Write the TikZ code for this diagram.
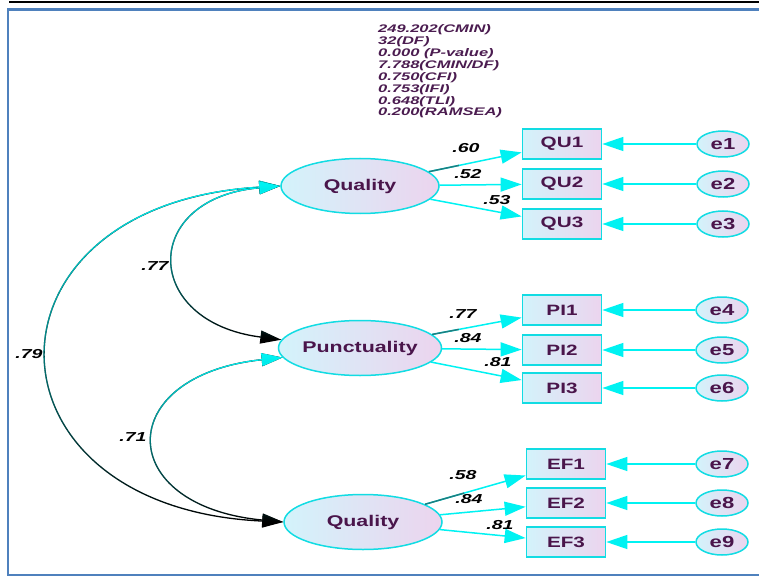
\documentclass[tikz,border=0pt]{standalone}
\usepackage{fontspec}
\setmainfont{Liberation Sans}
\newfontfamily\nodefont[FakeStretch=1.38]{Liberation Sans}
\newfontfamily\numfont[FakeStretch=1.5]{Liberation Sans}
\usetikzlibrary{arrows.meta,fadings,shapes.geometric}
\definecolor{txt}{HTML}{4A154B}
\definecolor{stat}{HTML}{4B1C50}
\definecolor{cy}{HTML}{00F2F2}
\definecolor{cyb}{HTML}{12DCE3}
\definecolor{fillL}{HTML}{D3F3FB}
\definecolor{fillR}{HTML}{ECD4EE}
\definecolor{framec}{HTML}{4F81BD}
\definecolor{tealc}{HTML}{1E7E80}
\tikzfading[name=topsolid, top color=transparent!0, middle color=transparent!40, bottom color=transparent!100]
\begin{document}
\begin{tikzpicture}[x=1pt,y=-1pt,
  latent/.style={ellipse, draw=cyb, line width=1.5pt, left color=fillL, right color=fillR,
    minimum width=158pt, minimum height=55pt, inner sep=0pt,
    font=\nodefont\bfseries\fontsize{15.5}{16}\selectfont, text=txt},
  obs/.style={rectangle, draw=cyb, line width=1.7pt, left color=fillL, right color=fillR,
    minimum width=79pt, minimum height=30pt, inner sep=0pt,
    font=\nodefont\bfseries\fontsize{15}{16}\selectfont, text=txt},
  err/.style={ellipse, draw=cyb, line width=1.5pt, left color=fillL, right color=fillR,
    minimum width=52pt, minimum height=26pt, inner sep=0pt,
    font=\nodefont\bfseries\fontsize{16}{16}\selectfont, text=txt},
  num/.style={font=\numfont\bfseries\itshape\fontsize{13}{13}\selectfont, text=black, inner sep=0pt},
  load/.style={draw=cy, line width=1.5pt, -{Triangle[length=21pt,width=14pt]}},
  loadbase/.style={draw=tealc, line width=1.5pt, shorten >=64pt},
  covbase/.style={draw=black, line width=1.3pt, {Triangle[length=21pt,width=13pt]}-{Triangle[length=21pt,width=13pt]}},
  covtop/.style={draw=cy, line width=1.3pt, {Triangle[length=21pt,width=13pt]}-{Triangle[length=21pt,width=13pt]}, path fading=topsolid},
  framel/.style={draw=framec, line width=2.2pt}
]
\useasboundingbox (0,0) rectangle (759,577);

% frame
\draw[line width=2pt, black] (9,2.5) -- (759,2.5);
\draw[framel] (759,9.5) -- (8,9.5) -- (8,575) -- (759,575);

% fit statistics
\node[anchor=north west, align=left, inner sep=0pt, text=stat,
  font=\numfont\bfseries\itshape\fontsize{11}{11.9}\selectfont] (stats) at (378,24.5)
  {249.202(CMIN)\\32(DF)\\0.000 (P-value)\\7.788(CMIN/DF)\\0.750(CFI)\\0.753(IFI)\\0.648(TLI)\\0.200(RAMSEA)};

% latent variables
\node[latent] (Q1) at (360,186) {Quality};
\node[latent] (P) at (360,348) {Punctuality};
\node[latent] (Q3) at (363,522) {Quality};

% observed variables
\node[obs] (QU1) at (562,144) {QU1};
\node[obs] (QU2) at (562,184) {QU2};
\node[obs] (QU3) at (562,224) {QU3};
\node[obs] (PI1) at (562,310) {PI1};
\node[obs] (PI2) at (562,350) {PI2};
\node[obs] (PI3) at (562,388) {PI3};
\node[obs] (EF1) at (566,464) {EF1};
\node[obs] (EF2) at (566,503) {EF2};
\node[obs] (EF3) at (566,542) {EF3};

% error terms
\node[err] (e1) at (723,144) {e1};
\node[err] (e2) at (723,184) {e2};
\node[err] (e3) at (723,224) {e3};
\node[err] (e4) at (722,310) {e4};
\node[err] (e5) at (722,350) {e5};
\node[err] (e6) at (722,388) {e6};
\node[err] (e7) at (722,464) {e7};
\node[err] (e8) at (722,503) {e8};
\node[err] (e9) at (722,542) {e9};

% loadings
\draw[load] (Q1) -- (QU1);
\draw[loadbase] (Q1) -- (QU1);
\draw[load] (Q1) -- (QU2);
\draw[load] (Q1) -- (QU3);
\draw[load] (P) -- (PI1);
\draw[loadbase] (P) -- (PI1);
\draw[load] (P) -- (PI2);
\draw[load] (P) -- (PI3);
\draw[load] (Q3) -- (EF1);
\draw[loadbase] (Q3) -- (EF1);
\draw[load] (Q3) -- (EF2);
\draw[load] (Q3) -- (EF3);

% error arrows
\foreach \e/\b in {e1/QU1,e2/QU2,e3/QU3,e4/PI1,e5/PI2,e6/PI3,e7/EF1,e8/EF2,e9/EF3}
  \draw[load] (\e) -- (\b);

% loading labels
\node[num] (l1) at (466,148) {.60};
\node[num] (l2) at (468,174) {.52};
\node[num] (l3) at (497,200) {.53};
\node[num] (l4) at (463,314) {.77};
\node[num] (l5) at (468,338) {.84};
\node[num] (l6) at (498,362) {.81};
\node[num] (l7) at (463,475) {.58};
\node[num] (l8) at (469,499) {.84};
\node[num] (l9) at (500,525) {.81};

% covariances
\draw[covbase] (Q1.west) .. controls +(-310,18) and +(-310,-14) .. (Q3.west);
\draw[covtop] (Q1.west) .. controls +(-310,18) and +(-310,-14) .. (Q3.west);
\draw[covbase] (Q1.west) .. controls +(-140,12) and +(-140,-18) .. (P.174);
\draw[covtop] (Q1.west) .. controls +(-140,12) and +(-140,-18) .. (P.174);
\draw[covbase] (P.187) .. controls +(-170,18) and +(-170,-16) .. (Q3.west);
\draw[covtop] (P.187) .. controls +(-170,18) and +(-170,-16) .. (Q3.west);

% covariance labels
\node[num] (c1) at (155,266) {.77};
\node[num] (c2) at (29,354) {.79};
\node[num] (c3) at (133,437) {.71};
\end{tikzpicture}
\end{document}
